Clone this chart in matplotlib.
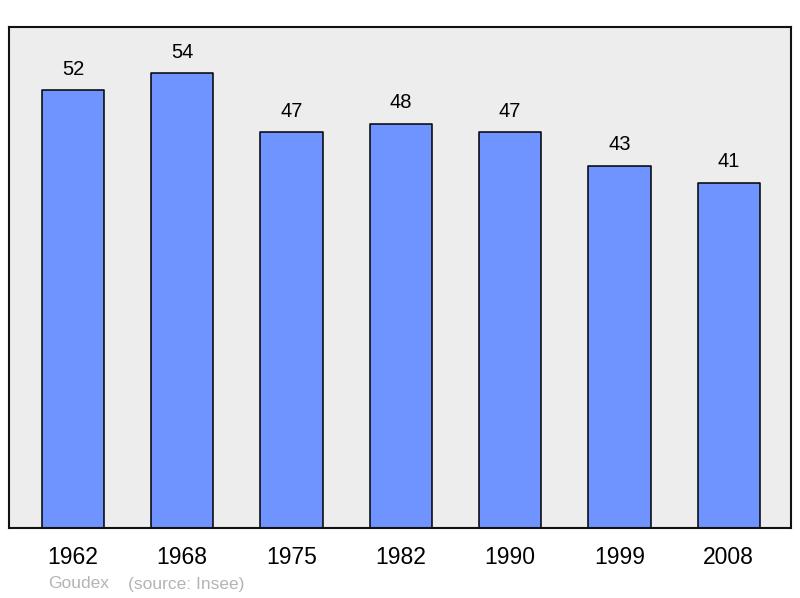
import matplotlib
matplotlib.use("Agg")
import matplotlib.pyplot as plt

years = ["1962", "1968", "1975", "1982", "1990", "1999", "2008"]
population = [52, 54, 47, 48, 47, 43, 41]

plt.rcParams['font.family'] = ['Liberation Sans', 'DejaVu Sans']

fig = plt.figure(figsize=(8, 5.98), dpi=100)
ax = fig.add_axes([9/800, 70/598, 782/800, 501/598])
ax.set_facecolor('#ededed')
x = list(range(len(years)))
ax.bar(x, population, width=0.57, color='#7094ff', edgecolor='black',
       linewidth=1.1, joinstyle='round', zorder=2)
for xi, v in zip(x, population):
    ax.annotate(str(v), (xi, v), xytext=(0, 21), textcoords='offset pixels',
                ha='center', va='center', fontsize=14.5)
ax.set_xlim(-0.585, 6.57)
ax.set_ylim(0, 59.5)
ax.set_yticks([])
ax.set_xticks(x)
ax.set_xticklabels(years, fontsize=16.5)
ax.tick_params(axis='x', length=0, pad=13)
for s in ax.spines.values():
    s.set_linewidth(1.5)
    s.set_color('#111111')
fig.text(48/800, 1 - 584/598, "Goudex", color='#b4b4b4', fontsize=12.5, va='center')
fig.text(128/800, 1 - 584/598, "(source: Insee)", color='#b4b4b4', fontsize=12.5, va='center')
fig.savefig("out.png", dpi=100)
